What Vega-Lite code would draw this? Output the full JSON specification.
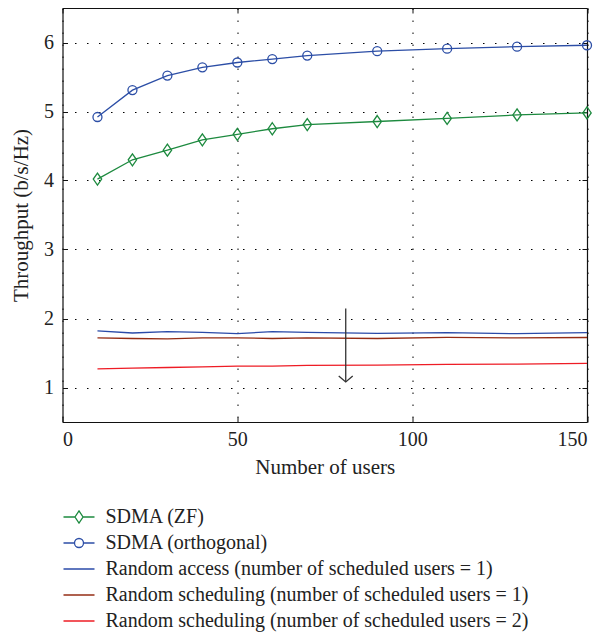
{
  "$schema": "https://vega.github.io/schema/vega-lite/v6.json",
  "autosize": "none",
  "width": 524.5,
  "height": 414,
  "padding": {"left": 62.5, "top": 8, "right": 17, "bottom": 213},
  "background": "white",
  "config": {
    "view": {"stroke": null},
    "font": "Liberation Serif",
    "axis": {
      "labelFont": "Liberation Serif",
      "titleFont": "Liberation Serif",
      "labelColor": "#222",
      "titleColor": "#222",
      "titleFontWeight": "normal",
      "domainColor": "#111",
      "domainWidth": 1.2,
      "tickColor": "#111",
      "tickSize": -5,
      "tickWidth": 1
    },
    "legend": {
      "title": null, "orient": "none", "legendX": 0, "legendY": 499,
      "symbolSize": 961, "symbolStrokeWidth": 1.3, "symbolOpacity": 1,
      "labelFont": "Liberation Serif", "labelFontSize": 20, "labelColor": "#222",
      "labelOffset": 10, "rowPadding": 6, "clipHeight": 20, "labelLimit": 600, "padding": 0
    }
  },
  "datasets": {
    "curves": [
      {"x": 10, "y": 4.02, "s": "SDMA (ZF)"},
      {"x": 20, "y": 4.30, "s": "SDMA (ZF)"},
      {"x": 30, "y": 4.44, "s": "SDMA (ZF)"},
      {"x": 40, "y": 4.59, "s": "SDMA (ZF)"},
      {"x": 50, "y": 4.67, "s": "SDMA (ZF)"},
      {"x": 60, "y": 4.75, "s": "SDMA (ZF)"},
      {"x": 70, "y": 4.81, "s": "SDMA (ZF)"},
      {"x": 90, "y": 4.855, "s": "SDMA (ZF)"},
      {"x": 110, "y": 4.90, "s": "SDMA (ZF)"},
      {"x": 130, "y": 4.95, "s": "SDMA (ZF)"},
      {"x": 150, "y": 4.98, "s": "SDMA (ZF)"},
      {"x": 10, "y": 4.92, "s": "SDMA (orthogonal)"},
      {"x": 20, "y": 5.31, "s": "SDMA (orthogonal)"},
      {"x": 30, "y": 5.52, "s": "SDMA (orthogonal)"},
      {"x": 40, "y": 5.64, "s": "SDMA (orthogonal)"},
      {"x": 50, "y": 5.71, "s": "SDMA (orthogonal)"},
      {"x": 60, "y": 5.76, "s": "SDMA (orthogonal)"},
      {"x": 70, "y": 5.81, "s": "SDMA (orthogonal)"},
      {"x": 90, "y": 5.875, "s": "SDMA (orthogonal)"},
      {"x": 110, "y": 5.91, "s": "SDMA (orthogonal)"},
      {"x": 130, "y": 5.94, "s": "SDMA (orthogonal)"},
      {"x": 150, "y": 5.96, "s": "SDMA (orthogonal)"},
      {"x": 10, "y": 1.82, "s": "Random access (number of scheduled users = 1)"},
      {"x": 20, "y": 1.79, "s": "Random access (number of scheduled users = 1)"},
      {"x": 30, "y": 1.81, "s": "Random access (number of scheduled users = 1)"},
      {"x": 40, "y": 1.80, "s": "Random access (number of scheduled users = 1)"},
      {"x": 50, "y": 1.78, "s": "Random access (number of scheduled users = 1)"},
      {"x": 60, "y": 1.81, "s": "Random access (number of scheduled users = 1)"},
      {"x": 70, "y": 1.80, "s": "Random access (number of scheduled users = 1)"},
      {"x": 90, "y": 1.785, "s": "Random access (number of scheduled users = 1)"},
      {"x": 110, "y": 1.795, "s": "Random access (number of scheduled users = 1)"},
      {"x": 130, "y": 1.78, "s": "Random access (number of scheduled users = 1)"},
      {"x": 150, "y": 1.795, "s": "Random access (number of scheduled users = 1)"},
      {"x": 10, "y": 1.72, "s": "Random scheduling (number of scheduled users = 1)"},
      {"x": 20, "y": 1.71, "s": "Random scheduling (number of scheduled users = 1)"},
      {"x": 30, "y": 1.705, "s": "Random scheduling (number of scheduled users = 1)"},
      {"x": 40, "y": 1.72, "s": "Random scheduling (number of scheduled users = 1)"},
      {"x": 50, "y": 1.72, "s": "Random scheduling (number of scheduled users = 1)"},
      {"x": 60, "y": 1.71, "s": "Random scheduling (number of scheduled users = 1)"},
      {"x": 70, "y": 1.72, "s": "Random scheduling (number of scheduled users = 1)"},
      {"x": 90, "y": 1.71, "s": "Random scheduling (number of scheduled users = 1)"},
      {"x": 110, "y": 1.725, "s": "Random scheduling (number of scheduled users = 1)"},
      {"x": 130, "y": 1.72, "s": "Random scheduling (number of scheduled users = 1)"},
      {"x": 150, "y": 1.725, "s": "Random scheduling (number of scheduled users = 1)"},
      {"x": 10, "y": 1.27, "s": "Random scheduling (number of scheduled users = 2)"},
      {"x": 20, "y": 1.28, "s": "Random scheduling (number of scheduled users = 2)"},
      {"x": 30, "y": 1.29, "s": "Random scheduling (number of scheduled users = 2)"},
      {"x": 40, "y": 1.30, "s": "Random scheduling (number of scheduled users = 2)"},
      {"x": 50, "y": 1.31, "s": "Random scheduling (number of scheduled users = 2)"},
      {"x": 60, "y": 1.31, "s": "Random scheduling (number of scheduled users = 2)"},
      {"x": 70, "y": 1.32, "s": "Random scheduling (number of scheduled users = 2)"},
      {"x": 90, "y": 1.325, "s": "Random scheduling (number of scheduled users = 2)"},
      {"x": 110, "y": 1.335, "s": "Random scheduling (number of scheduled users = 2)"},
      {"x": 130, "y": 1.34, "s": "Random scheduling (number of scheduled users = 2)"},
      {"x": 150, "y": 1.35, "s": "Random scheduling (number of scheduled users = 2)"}
    ],
    "arrow": [
      {"ax": 81, "ay": 2.145, "part": "shaft", "o": 1},
      {"ax": 81, "ay": 1.08, "part": "shaft", "o": 2},
      {"ax": 79, "ay": 1.167, "part": "head", "o": 1},
      {"ax": 81, "ay": 1.08, "part": "head", "o": 2},
      {"ax": 83, "ay": 1.167, "part": "head", "o": 3}
    ]
  },
  "resolve": {"axis": {"x": "independent", "y": "independent"}},
  "layer": [
    {
      "data": {"name": "curves"},
      "mark": {"type": "line", "strokeWidth": 1.3},
      "encoding": {
        "x": {
          "field": "x", "type": "quantitative",
          "scale": {"domain": [0, 150], "nice": false, "zero": false},
          "axis": {
            "title": "Number of users", "titleFontSize": 21, "titlePadding": 7,
            "values": [0, 50, 100, 150], "labelFontSize": 20, "labelPadding": 12,
            "grid": true, "gridColor": "#000", "gridDash": [1.5, 10.5], "gridWidth": 1, "gridOpacity": 1
          }
        },
        "y": {
          "field": "y", "type": "quantitative",
          "scale": {"domain": [0.5, 6.5], "nice": false, "zero": false},
          "axis": {
            "title": "Throughput (b/s/Hz)", "titleFontSize": 21, "titlePadding": 12,
            "values": [1, 2, 3, 4, 5, 6], "labelFontSize": 20, "labelPadding": 14,
            "grid": true, "gridColor": "#000", "gridDash": [1.5, 10.5], "gridWidth": 1, "gridOpacity": 1
          }
        },
        "color": {
          "field": "s", "type": "nominal",
          "scale": {
            "domain": ["SDMA (ZF)", "SDMA (orthogonal)", "Random access (number of scheduled users = 1)", "Random scheduling (number of scheduled users = 1)", "Random scheduling (number of scheduled users = 2)"],
            "range": ["#1d8a3f", "#2c4ea6", "#2a4aa8", "#952c14", "#ee1c25"]
          }
        }
      }
    },
    {
      "data": {"name": "curves"},
      "transform": [{"filter": "datum.s === 'SDMA (ZF)'"}],
      "mark": {"type": "point", "filled": false, "shape": "M0,-1L0.7,0L0,1L-0.7,0Z", "size": 144, "strokeWidth": 1.3, "color": "#1d8a3f", "opacity": 1},
      "encoding": {
        "x": {"field": "x", "type": "quantitative", "axis": null},
        "y": {"field": "y", "type": "quantitative", "axis": null}
      }
    },
    {
      "data": {"name": "curves"},
      "transform": [{"filter": "datum.s === 'SDMA (orthogonal)'"}],
      "mark": {"type": "point", "filled": false, "shape": "circle", "size": 81, "strokeWidth": 1.3, "color": "#2c4ea6", "opacity": 1},
      "encoding": {
        "x": {"field": "x", "type": "quantitative", "axis": null},
        "y": {"field": "y", "type": "quantitative", "axis": null}
      }
    },
    {
      "data": {"name": "arrow"},
      "mark": {"type": "line", "strokeWidth": 1.3, "color": "#333"},
      "encoding": {
        "x": {"field": "ax", "type": "quantitative", "axis": null},
        "y": {"field": "ay", "type": "quantitative", "axis": null},
        "detail": {"field": "part"},
        "order": {"field": "o"}
      }
    },
    {
      "data": {"name": "curves"},
      "mark": {"type": "point", "filled": false, "opacity": 0, "strokeWidth": 1.3},
      "encoding": {
        "x": {
          "field": "x", "type": "quantitative",
          "axis": {"orient": "top", "title": null, "labels": false, "values": [0, 50, 100, 150], "grid": false}
        },
        "y": {
          "field": "y", "type": "quantitative",
          "axis": {"orient": "right", "title": null, "labels": false, "values": [1, 2, 3, 4, 5, 6], "grid": false}
        },
        "color": {"field": "s", "type": "nominal"},
        "shape": {
          "field": "s", "type": "nominal",
          "scale": {
            "domain": ["SDMA (ZF)", "SDMA (orthogonal)", "Random access (number of scheduled users = 1)", "Random scheduling (number of scheduled users = 1)", "Random scheduling (number of scheduled users = 2)"],
            "range": [
              "M-1,0L-0.26,0M0.26,0L1,0M0,-0.39L0.26,0L0,0.39L-0.26,0Z",
              "M-1,0L-0.29,0M0.29,0L1,0M0.29,0A0.29,0.29,0,1,1,-0.29,0A0.29,0.29,0,1,1,0.29,0Z",
              "M-1,0L1,0",
              "M-1,0L1,0",
              "M-1,0L1,0"
            ]
          }
        }
      }
    }
  ]
}
